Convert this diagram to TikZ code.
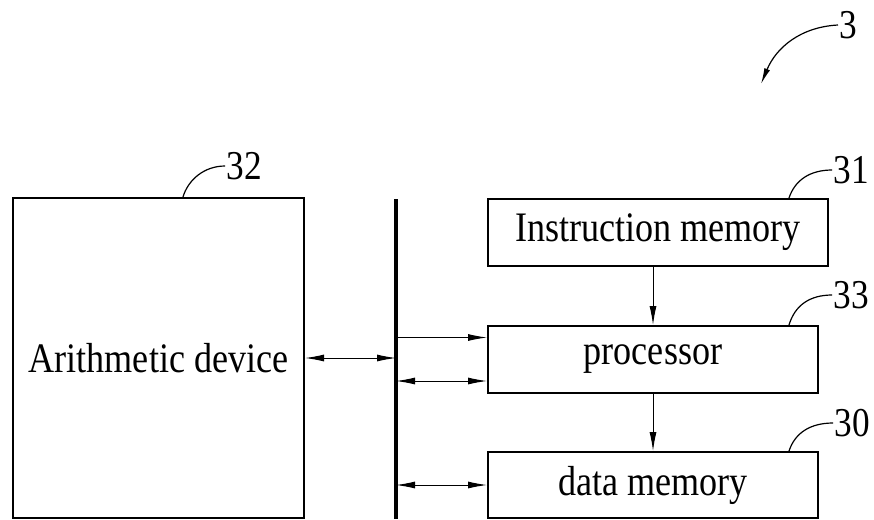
\documentclass[tikz,border=0pt]{standalone}
\usepackage{fontspec}
\setmainfont{Liberation Serif}[FakeStretch=0.86]
\usepackage{tikz}
\usetikzlibrary{arrows.meta, positioning, calc}
\definecolor{inkBlack}{HTML}{000000}
\tikzset{
    blk/.style={draw=inkBlack, line width=2pt, inner sep=0pt, font=\fontsize{42}{45}\selectfont},
    refnum/.style={inner sep=1pt, font=\fontsize{41}{44}\selectfont},
    leader/.style={draw=inkBlack, line width=1.2pt},
    link/.style={draw=inkBlack, line width=1pt, -{Latex[length=19pt, width=7pt]}},
    duplex/.style={draw=inkBlack, line width=1pt, {Latex[length=19pt, width=7pt]}-{Latex[length=19pt, width=7pt]}}
}

\begin{document}
\begin{tikzpicture}[x=1pt, y=-1pt]
        \useasboundingbox (0,0) rectangle (874,519);

        % Blocks
        \node[blk, minimum width=291pt, minimum height=320pt] (arith) at (158.5,358) {Arithmetic device};
        \node[blk, minimum width=340pt, minimum height=67pt] (imem) at (658,232.5) {Instruction memory};
        \node[blk, minimum width=330pt, minimum height=67pt] (proc) at (653,359.5) {processor};
        \node[blk, minimum width=330pt, minimum height=66pt] (dmem) at (653,485) {data memory};

        % Bus
        \coordinate (bustop) at (396,199);
        \coordinate (busbot) at (396,519);
        \draw[inkBlack, line width=4pt] (bustop) -- (busbot);

        % Connections
        \draw[duplex] (arith.east) -- (arith.east -| bustop);
        \draw[link] ([yshift=22pt]proc.west -| bustop) -- ([yshift=22pt]proc.west);
        \draw[duplex] ([yshift=-21.5pt]proc.west -| bustop) -- ([yshift=-21.5pt]proc.west);
        \draw[duplex] (dmem.west -| bustop) -- (dmem.west);
        \draw[link] (imem.south -| proc.north) -- (proc.north);
        \draw[link] (proc.south) -- (dmem.north);

        % Reference numerals
        \node[refnum] (n32) at (244,166) {32};
        \node[refnum] (n31) at (851,170) {31};
        \node[refnum] (n33) at (851,295) {33};
        \node[refnum] (n30) at (852,423) {30};
        \node[refnum] (n3) at (848,25) {3};
        \draw[leader] ([xshift=24.5pt]arith.north) .. controls (188,180) and (204,166) .. (n32.west);
        \draw[leader] ([xshift=131pt]imem.north) .. controls (795,180) and (810,170) .. (n31.west);
        \draw[leader] ([xshift=136pt]proc.north) .. controls (795,305) and (810,295) .. (n33.west);
        \draw[leader] ([xshift=136pt]dmem.north) .. controls (795,433) and (810,423) .. (n30.west);
        \draw[leader, -{Latex[length=16pt, width=6pt]}] (n3.west) .. controls (800,27) and (776,48) .. (761,84);
    \end{tikzpicture}
\end{document}
